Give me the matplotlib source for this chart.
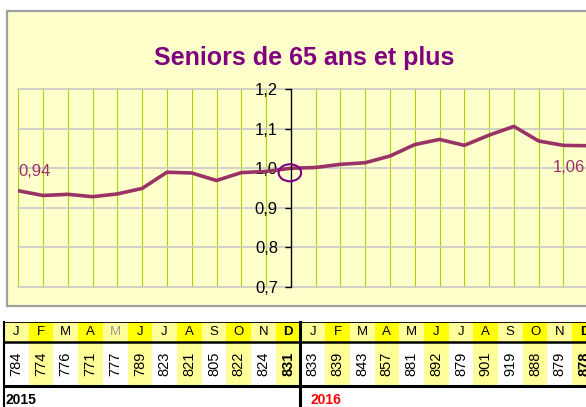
import matplotlib
matplotlib.use("Agg")
import matplotlib.pyplot as plt
from matplotlib.patches import Rectangle, Ellipse
from matplotlib import transforms

plt.rcParams['font.family'] = ['Liberation Sans', 'DejaVu Sans']

# ---------------- data ----------------
title = "Seniors de 65 ans et plus"
months = ["J", "F", "M", "A", "M", "J", "J", "A", "S", "O", "N", "D",
          "J", "F", "M", "A", "M", "J", "J", "A", "S", "O", "N", "D"]
counts = [784, 774, 776, 771, 777, 789, 823, 821, 805, 822, 824, 831,
          833, 839, 843, 857, 881, 892, 879, 901, 919, 888, 879, 878]
index_values = [0.943, 0.931, 0.934, 0.928, 0.935, 0.949, 0.990, 0.988, 0.969, 0.989, 0.992, 1.000,
                1.002, 1.010, 1.014, 1.031, 1.060, 1.073, 1.058, 1.084, 1.106, 1.069, 1.058, 1.057]
years = ["2015", "2016"]
y_ticks = [0.7, 0.8, 0.9, 1.0, 1.1, 1.2]
y_tick_labels = ["0,7", "0,8", "0,9", "1,0", "1,1", "1,2"]
first_label = "0,94"
last_label = "1,06"
ref_index = 11  # December 2015 = base 1.0

# ---------------- layout ----------------
W, H = 586, 407
fig = plt.figure(figsize=(W / 100, H / 100), dpi=100)
fig.patch.set_facecolor("white")

def fx(px):
    return px / W

def fy(py):
    return 1 - py / H

BG = "#FFFFCC"
LINE = "#993366"

# panel (background of the chart area)
panel = Rectangle((fx(7), fy(306)), fx(700), fy(10.5) - fy(306), transform=fig.transFigure,
                  facecolor=BG, edgecolor="#A0A0A0", linewidth=1.6, zorder=-5)
fig.patches.append(panel)

fig.text(fx(304.5), fy(58), title, ha="center", va="center", fontsize=18,
         fontweight="bold", color="#800080")

# plot axes
px_left, px_right, px_top, px_bot = 18.3, 586, 89.3, 286.7
step = 24.78
ax = fig.add_axes([fx(px_left), fy(px_bot), fx(px_right) - fx(px_left), fy(px_top) - fy(px_bot)])
ax.set_zorder(2)
ax.patch.set_alpha(0)
x = list(range(len(index_values)))
ax.set_xlim(0, (px_right - px_left) / step)
ax.set_ylim(0.7, 1.2)

for xi in x:
    if xi != ref_index:
        ax.axvline(xi, color="#A6D600", linewidth=0.8, zorder=1)
for yt in y_ticks:
    ax.axhline(yt, color="#C8C8C8", linewidth=1.2, zorder=1, clip_on=False)

ax.plot(x, index_values, color=LINE, linewidth=2.6, zorder=3, solid_joinstyle="round")

for s in ["top", "right", "bottom"]:
    ax.spines[s].set_visible(False)
ax.spines["left"].set_position(("data", ref_index))
ax.spines["left"].set_color("black")
ax.spines["left"].set_linewidth(1.0)
ax.spines["left"].set_zorder(4)
ax.set_yticks(y_ticks)
ax.set_yticklabels(y_tick_labels, fontsize=12)
ax.tick_params(axis="y", direction="out", length=4.3, width=1, pad=5)
ax.set_xticks([])

# circle highlight at the base point
circ_tr = fig.dpi_scale_trans + transforms.ScaledTranslation(ref_index, index_values[ref_index], ax.transData)
ax.add_patch(Ellipse((-0.01, -0.045), 0.225, 0.17, transform=circ_tr, fill=False,
                     edgecolor="#800080", linewidth=1.5, zorder=5, clip_on=False))

ax.annotate(first_label, (x[0], index_values[0]), xytext=(0, 19), textcoords="offset pixels",
            ha="left", va="center", fontsize=12, color=LINE)
ax.annotate(last_label, (x[-1], index_values[-1]), xytext=(-3, -22), textcoords="offset pixels",
            ha="right", va="center", fontsize=12, color=LINE, annotation_clip=False)

# ---------------- table ----------------
t_left, t_top = 4, 321.5
col_w = 24.7
tab = fig.add_axes([fx(t_left), 0, 1 - fx(t_left), fy(t_top)])
tab.set_xlim(0, (W - t_left) / col_w)
tab.set_ylim(H - t_top, 0)
tab.axis("off")

m_top, m_bot, v_bot, t_bot = 0, 20.5, 64.5, H - t_top
for i, (m, c) in enumerate(zip(months, counts)):
    mcol = "#FFFF00" if i % 2 == 1 else "#FFFF99"
    vcol = "#FFFF99" if i % 2 == 1 else "white"
    tab.add_patch(Rectangle((i, m_top), 1, m_bot - m_top, facecolor=mcol, edgecolor="none", zorder=1))
    tab.add_patch(Rectangle((i, m_bot), 1, v_bot - m_bot, facecolor=vcol, edgecolor="none", zorder=1))
    bold = "bold" if i % 12 == 11 else "normal"
    tcol = "#999999" if i == 4 else "black"
    tab.text(i + 0.5, (m_top + m_bot) / 2 + 0.5, m, ha="center", va="center", fontsize=9.5,
             color=tcol, fontweight=bold, zorder=3)
    tab.text(i + 0.5, (m_bot + v_bot) / 2, str(c), ha="center", va="center", fontsize=10.5,
             rotation=90, fontweight=bold, zorder=3)

tab.plot([0, 40], [m_top + 0.5, m_top + 0.5], color="black", linewidth=1.3, zorder=4)
tab.plot([0, 40], [m_bot, m_bot], color="black", linewidth=1.8, zorder=4)
tab.plot([0, 40], [v_bot, v_bot], color="black", linewidth=2.2, zorder=4)
tab.plot([0, 0], [m_top, t_bot], color="black", linewidth=1.5, zorder=4, clip_on=False)
tab.plot([12, 12], [m_top, t_bot], color="black", linewidth=2.2, zorder=4, clip_on=False)

tab.text(0.05, 78.5, years[0], ha="left", va="center", fontsize=10, fontweight="bold", color="black")
tab.text(12.4, 78.5, years[1], ha="left", va="center", fontsize=10, fontweight="bold", color="#FF0000")

fig.savefig("out.png", dpi=100)
